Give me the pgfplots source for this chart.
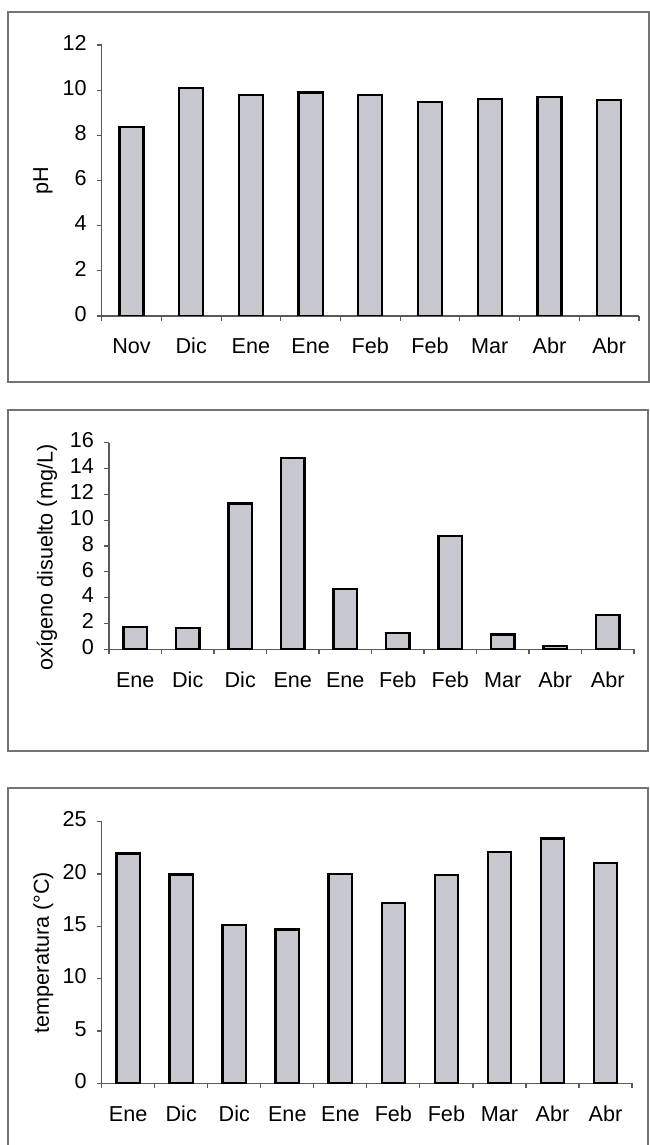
\documentclass[border=0pt]{standalone}
\usepackage{fontspec}
\setmainfont{Liberation Sans}
\usepackage{pgfplots}
\pgfplotsset{compat=1.18}
\definecolor{barfill}{RGB}{199,199,208}
\definecolor{axgray}{RGB}{90,90,90}
\pgfplotsset{
  panel/.style={
    scale only axis,
    axis lines*=left,
    axis line style={axgray, line width=0.6pt},
    ybar,
    ymin=0,
    tick align=outside,
    major tick length=2.5pt,
    tick style={axgray, line width=0.6pt},
    x tick label as interval,
    typeset ticklabels with strut,
    font=\fontsize{10.8}{13}\selectfont,
    tick label style={font=\fontsize{10.8}{13}\selectfont},
    label style={font=\fontsize{10.8}{13}\selectfont},
    /pgf/number format/assume math mode=true,
    xticklabel style={yshift=-3.8pt},
    yticklabel style={xshift=-1.5pt},
    grid=none,
  },
  barstyle/.style={fill=barfill, draw=black, line width=1.15pt},
}
\begin{document}
\begin{tikzpicture}
\useasboundingbox (0,0) rectangle (324.5pt,572.5pt);
\fill[white] (0,0) rectangle (324.5pt,572.5pt);
% panel frames
\draw[black!55, line width=0.7pt] (4pt,381.5pt) rectangle (324.5pt,566.5pt);
\draw[black!55, line width=0.7pt] (4pt,197pt) rectangle (324pt,367.5pt);
\draw[black!55, line width=0.7pt] (4pt,-5pt) rectangle (324pt,178.5pt);

% pH
\begin{axis}[panel,
  at={(50.85pt,414.5pt)}, anchor=south west,
  width=268.65pt, height=135.5pt,
  xmin=-0.5, xmax=8.5, ymax=12,
  ytick={0,2,...,12},
  xtick={-0.5,0.5,...,8.5},
  xticklabels={Nov,Dic,Ene,Ene,Feb,Feb,Mar,Abr,Abr},
  bar width=12pt,
  ylabel={pH},
  every axis y label/.style={at={(rel axis cs:0,0.5)}, xshift=-29.35pt, rotate=90, anchor=center},
]
\addplot[barstyle] coordinates {(0,8.38) (1,10.1) (2,9.8) (3,9.9) (4,9.77) (5,9.46) (6,9.6) (7,9.71) (8,9.57)};
\end{axis}

% oxigeno
\begin{axis}[panel,
  at={(54.5pt,247.85pt)}, anchor=south west,
  width=262.5pt, height=103.3pt,
  xmin=-0.5, xmax=9.5, ymax=16,
  ytick={0,2,...,16},
  xtick={-0.5,0.5,...,9.5},
  xticklabels={Ene,Dic,Dic,Ene,Ene,Feb,Feb,Mar,Abr,Abr},
  bar width=11.8pt,
  ylabel={oxígeno disuelto (mg/L)},
  every axis y label/.style={at={(rel axis cs:0,0.444)}, xshift=-31pt, rotate=90, anchor=center},
]
\addplot[barstyle] coordinates {(0,1.70) (1,1.63) (2,11.28) (3,14.84) (4,4.67) (5,1.24) (6,8.77) (7,1.14) (8,0.28) (9,2.63)};
\end{axis}

% temperatura
\begin{axis}[panel,
  at={(50.85pt,30.85pt)}, anchor=south west,
  width=265.15pt, height=130.8pt,
  xmin=-0.5, xmax=9.5, ymax=25,
  ytick={0,5,...,25},
  xtick={-0.5,0.5,...,9.5},
  xticklabels={Ene,Dic,Dic,Ene,Ene,Feb,Feb,Mar,Abr,Abr},
  bar width=11.7pt,
  ylabel={temperatura (°C)},
  every axis y label/.style={at={(rel axis cs:0,0.5)}, xshift=-29.15pt, rotate=90, anchor=center},
]
\addplot[barstyle] coordinates {(0,21.97) (1,19.96) (2,15.10) (3,14.69) (4,20.02) (5,17.24) (6,19.89) (7,22.1) (8,23.4) (9,21.03)};
\end{axis}
\end{tikzpicture}
\end{document}
